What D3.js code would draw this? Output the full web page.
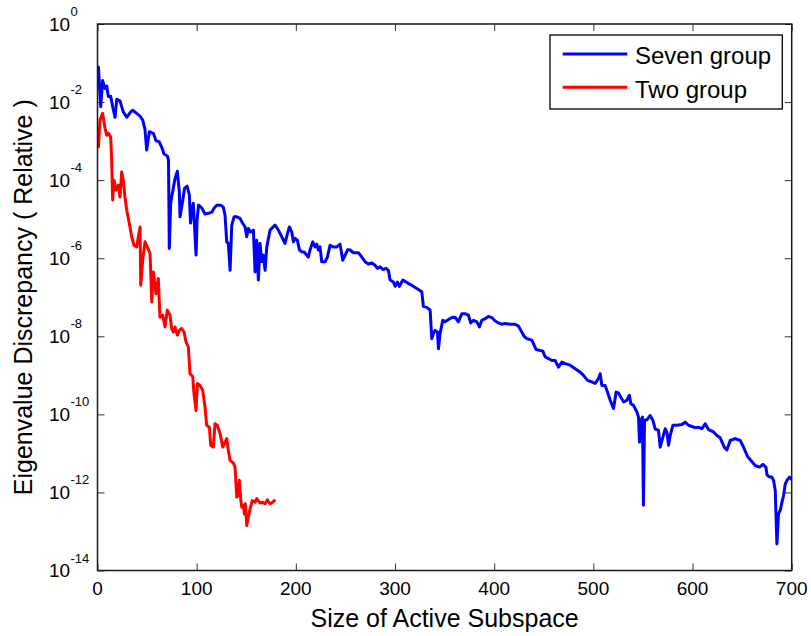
<!DOCTYPE html>
<html>
<head>
<meta charset="utf-8">
<script src="https://cdn.jsdelivr.net/npm/d3@7"></script>
<style>
  html, body { margin: 0; padding: 0; background: #fff; }
  svg { display: block; }
  text { font-family: "Liberation Sans", Arial, Helvetica, sans-serif; fill: #000; }
</style>
</head>
<body>
<svg id="chart" width="811" height="636"></svg>
<script>
// ---- data: [size of active subspace, log10(relative eigenvalue discrepancy)] ----
const sevenGroup = [[1,-1.11],[3.2,-2.12],[5.2,-1.45],[7.6,-1.65],[9.3,-1.59],[10.9,-1.86],[13.3,-1.85],[15.3,-2.12],[17.7,-2.39],[19.4,-1.93],[22.7,-1.97],[26,-2.25],[29.5,-2.39],[33.5,-2.25],[35.5,-2.21],[39.5,-2.29],[42.9,-2.36],[45.6,-2.46],[47.9,-2.7],[49.6,-3.23],[52.3,-2.76],[56.3,-2.8],[59,-2.99],[62.3,-3.02],[64.8,-3.16],[67.1,-3.33],[70.4,-3.38],[71.6,-3.49],[72.4,-5.75],[73.8,-4.6],[74.8,-4.43],[78.2,-3.96],[80.5,-3.77],[82.5,-4.3],[83.2,-4.94],[85.2,-4.64],[87.8,-4.21],[90.3,-4.15],[92.6,-4.38],[93.8,-5.1],[95.3,-4.77],[96.6,-4.59],[99.4,-5.92],[100.4,-5.03],[101.9,-4.64],[105.4,-4.72],[108.4,-4.87],[111.8,-4.85],[115.2,-4.82],[117.5,-4.72],[120.2,-4.64],[124.3,-4.64],[126.9,-4.69],[128.6,-4.9],[130.3,-5.58],[131.9,-5.62],[133.7,-6.31],[135.4,-5.15],[137.7,-4.94],[140.4,-4.94],[143.7,-4.98],[146.5,-5.11],[148.8,-5.2],[150.5,-5.45],[152.1,-5.24],[154.5,-5.33],[157.2,-5.28],[158.9,-6.35],[160.6,-5.54],[162.2,-6.56],[163.9,-5.62],[165.6,-6.09],[167.2,-5.92],[169,-6.31],[170.7,-5.71],[174,-5.28],[179,-5.15],[182.4,-5.28],[185.8,-5.45],[189.1,-5.62],[191.5,-5.37],[193.5,-5.2],[195.9,-5.33],[197.5,-5.58],[199.2,-5.49],[201.5,-5.54],[203.6,-5.78],[206,-5.84],[208.3,-5.84],[210.3,-5.9],[212.6,-5.97],[214.3,-5.79],[217.1,-5.58],[219.4,-5.71],[221.1,-5.64],[222.7,-5.79],[224.4,-5.71],[226.1,-6.09],[229.5,-6.09],[231.8,-5.97],[234.5,-5.67],[237.9,-5.71],[241.3,-5.71],[244.6,-5.64],[247.3,-6.05],[249.7,-5.92],[252.4,-5.78],[254.7,-5.79],[258,-5.86],[263.1,-5.86],[266.5,-5.97],[269.8,-6.09],[273.2,-6.15],[276.6,-6.12],[279.9,-6.18],[282.2,-6.26],[285,-6.22],[287.7,-6.29],[291,-6.26],[293.3,-6.31],[295,-6.56],[298.4,-6.61],[300.1,-6.72],[302.4,-6.61],[304.4,-6.72],[307.9,-6.56],[311.2,-6.61],[313.5,-6.65],[316.9,-6.69],[320.3,-6.75],[323.6,-6.8],[327,-6.86],[328.6,-7.23],[332.1,-7.26],[335.4,-7.33],[337.1,-8.06],[338.7,-7.93],[340.4,-7.85],[342.8,-7.89],[343.8,-8.32],[345.5,-7.92],[348.2,-7.59],[350.5,-7.63],[353.9,-7.57],[357.3,-7.52],[360.6,-7.51],[363.9,-7.63],[367.4,-7.42],[370.7,-7.42],[374,-7.46],[376.4,-7.66],[379.1,-7.59],[382.5,-7.63],[385.1,-7.76],[387.5,-7.59],[390.9,-7.55],[394.2,-7.49],[397.6,-7.52],[401,-7.61],[404.3,-7.66],[407.7,-7.69],[411,-7.67],[416.1,-7.69],[421.1,-7.69],[424.5,-7.74],[426.9,-7.85],[430.2,-8],[432.9,-8.06],[438,-8.1],[442.3,-8.34],[449.1,-8.38],[451.4,-8.53],[454.7,-8.57],[458.2,-8.62],[461.5,-8.62],[464.8,-8.79],[468.2,-8.66],[471.6,-8.7],[476.6,-8.74],[481.7,-8.83],[486.7,-8.92],[490,-9],[494.1,-9.13],[498.5,-9.17],[501.8,-9.21],[505.2,-9.08],[506.9,-8.96],[508.6,-9.26],[511.9,-9.26],[514.2,-9.43],[517,-9.64],[520.3,-9.85],[523,-9.43],[525.3,-9.45],[527.8,-9.56],[530.4,-9.68],[533.8,-9.64],[536.4,-9.51],[537.8,-9.73],[540.5,-9.77],[543.9,-9.94],[545.5,-10.07],[546.5,-10.71],[547.9,-10.15],[549.5,-10.07],[550.5,-12.33],[551.6,-10.15],[554,-10.14],[557.3,-10.03],[560,-10.15],[562.3,-10.37],[565.7,-10.41],[567.4,-10.84],[569.7,-10.62],[572.4,-10.37],[574.1,-10.45],[575.8,-10.79],[577.5,-10.54],[580.2,-10.28],[584.2,-10.28],[589.3,-10.26],[592.6,-10.2],[595.9,-10.28],[599.4,-10.31],[602.7,-10.34],[606,-10.33],[609.5,-10.37],[612.8,-10.24],[616.1,-10.39],[621.2,-10.45],[624.6,-10.54],[627.9,-10.6],[632,-10.84],[634.7,-10.91],[638,-10.67],[643,-10.62],[648.1,-10.67],[651.4,-10.84],[655.5,-11.08],[658.9,-11.18],[663.2,-11.31],[667.6,-11.35],[671,-11.28],[674,-11.35],[675,-11.54],[676.6,-11.59],[680.1,-11.61],[681.7,-11.69],[683.4,-11.95],[685.1,-13.32],[686.7,-12.55],[688.4,-12.46],[690.2,-12.25],[691.8,-12.08],[693.5,-11.78],[695.2,-11.69],[697.8,-11.61],[700,-11.67]];

const twoGroup = [[1,-3.15],[2.5,-2.46],[5.2,-2.29],[7.6,-2.67],[9.3,-2.85],[10.9,-2.8],[13.3,-2.89],[14.3,-3.49],[15.3,-4.51],[16.6,-4.0],[18.7,-4.26],[21,-4.13],[22.7,-4.43],[24.4,-3.79],[26,-4.0],[27.7,-4.43],[29.5,-4.77],[32.1,-5.11],[34.5,-5.45],[36.8,-5.67],[39.5,-5.71],[41.2,-5.45],[42.9,-5.2],[43.6,-6.69],[45.6,-6.05],[47.9,-5.58],[50.2,-5.71],[53,-5.88],[54.7,-7.12],[56.3,-6.35],[59,-6.91],[61.3,-6.52],[63,-7.51],[65.8,-7.46],[68.1,-7.76],[70.4,-7.33],[73.1,-7.46],[74.8,-7.8],[76.5,-7.89],[78.2,-7.76],[80.5,-7.97],[82.5,-7.85],[84.9,-7.8],[87.3,-7.89],[89.3,-8.15],[91.6,-8.27],[93.3,-8.96],[96,-9.03],[97.3,-9.47],[99.4,-9.9],[100.7,-9.21],[103.4,-9.26],[106.1,-9.38],[108.4,-9.81],[110.1,-10.28],[112.8,-10.33],[114.2,-10.79],[116.8,-10.84],[118.5,-10.24],[120.8,-10.28],[123.6,-10.49],[126.3,-10.84],[128.6,-10.71],[130.3,-10.62],[131.9,-10.92],[133.7,-11.18],[137,-11.25],[138.7,-11.35],[140.4,-12.12],[142,-12.08],[143,-11.69],[144.4,-12.16],[145.5,-12.38],[147.1,-12.33],[148.1,-12.55],[149.1,-12.29],[150.5,-12.85],[152.1,-12.63],[153.8,-12.42],[156.1,-12.21],[158.9,-12.25],[160.6,-12.16],[162.2,-12.21],[163.9,-12.27],[166.6,-12.25],[169,-12.29],[171.3,-12.19],[174,-12.29],[176.7,-12.25],[178.3,-12.21]];

const seriesNames = ["Seven group", "Two group"];
const seriesColors = ["#0000ff", "#ff0000"];
const xTicks = [0, 100, 200, 300, 400, 500, 600, 700];
const yTickExponents = [0, -2, -4, -6, -8, -10, -12, -14];
const xLabel = "Size of Active Subspace";
const yLabel = "Eigenvalue Discrepancy ( Relative )";

// ---- layout ----
const svg = d3.select("#chart");
const L = 97.5, R = 791.7, T = 24, B = 570.5;
const x = d3.scaleLinear().domain([0, 700]).range([L, R]);
const y = d3.scaleLog().domain([1e-14, 1]).range([B, T]);

svg.append("rect").attr("width", 811).attr("height", 636).attr("fill", "#fff");

// ticks (inward, all four sides)
const tickLen = 7;
function styleAxis(g) {
  g.select(".domain").remove();
  g.selectAll(".tick line").attr("stroke", "#333").attr("stroke-width", 1);
  g.selectAll(".tick text").remove();
}
svg.append("g").attr("transform", `translate(0,${B})`)
  .call(d3.axisBottom(x).tickValues(xTicks).tickSize(-tickLen).tickSizeOuter(0)).call(styleAxis);
svg.append("g").attr("transform", `translate(0,${T})`)
  .call(d3.axisTop(x).tickValues(xTicks).tickSize(-tickLen).tickSizeOuter(0)).call(styleAxis);
const yTickVals = yTickExponents.map(e => Math.pow(10, e));
svg.append("g").attr("transform", `translate(${L},0)`)
  .call(d3.axisLeft(y).tickValues(yTickVals).tickSize(-tickLen).tickSizeOuter(0)).call(styleAxis);
svg.append("g").attr("transform", `translate(${R},0)`)
  .call(d3.axisRight(y).tickValues(yTickVals).tickSize(-tickLen).tickSizeOuter(0)).call(styleAxis);

// x tick labels
svg.append("g").selectAll("text").data(xTicks).join("text")
  .attr("x", d => x(d)).attr("y", 595)
  .attr("text-anchor", "middle").attr("font-size", 19)
  .text(d => d);

// y tick labels with superscripts
const yl = svg.append("g").selectAll("g").data(yTickExponents).join("g")
  .attr("transform", e => `translate(49,${y(Math.pow(10, e))})`);
yl.append("text").attr("x", 0).attr("y", 6.5).attr("font-size", 19).text("10");
yl.append("text").attr("x", 21.5).attr("y", -8).attr("font-size", 13).text(e => String(e));

// lines
const line = d3.line().x(d => x(d[0])).y(d => y(Math.pow(10, d[1])));
const clip = svg.append("clipPath").attr("id", "plotclip")
  .append("rect").attr("x", L).attr("y", T).attr("width", R - L).attr("height", B - T);
const series = [sevenGroup, twoGroup];
svg.append("g").attr("clip-path", "url(#plotclip)").selectAll("path").data(series).join("path")
  .attr("d", line).attr("fill", "none")
  .attr("stroke", (d, i) => seriesColors[i]).attr("stroke-width", 3)
  .attr("stroke-linejoin", "round").attr("stroke-linecap", "round");

// plot box
svg.append("rect").attr("x", L).attr("y", T).attr("width", R - L).attr("height", B - T)
  .attr("fill", "none").attr("stroke", "#1a1a1a").attr("stroke-width", 1.5);

// axis labels
svg.append("text").attr("x", (L + R) / 2).attr("y", 627).attr("text-anchor", "middle")
  .attr("font-size", 25).text(xLabel);
svg.append("text").attr("transform", `translate(32,${(T + B) / 2}) rotate(-90)`)
  .attr("text-anchor", "middle").attr("font-size", 25).text(yLabel);

// legend
const lg = svg.append("g");
lg.append("rect").attr("x", 550).attr("y", 35).attr("width", 232.3).attr("height", 74)
  .attr("fill", "#fff").attr("stroke", "#000").attr("stroke-width", 1.3);
const legendY = [54, 87.3];
seriesNames.forEach((name, i) => {
  lg.append("line").attr("x1", 562.7).attr("x2", 627.3).attr("y1", legendY[i]).attr("y2", legendY[i])
    .attr("stroke", seriesColors[i]).attr("stroke-width", 3);
  lg.append("text").attr("x", 635).attr("y", legendY[i] + 10.3).attr("font-size", 24).text(name);
});
</script>
</body>
</html>
